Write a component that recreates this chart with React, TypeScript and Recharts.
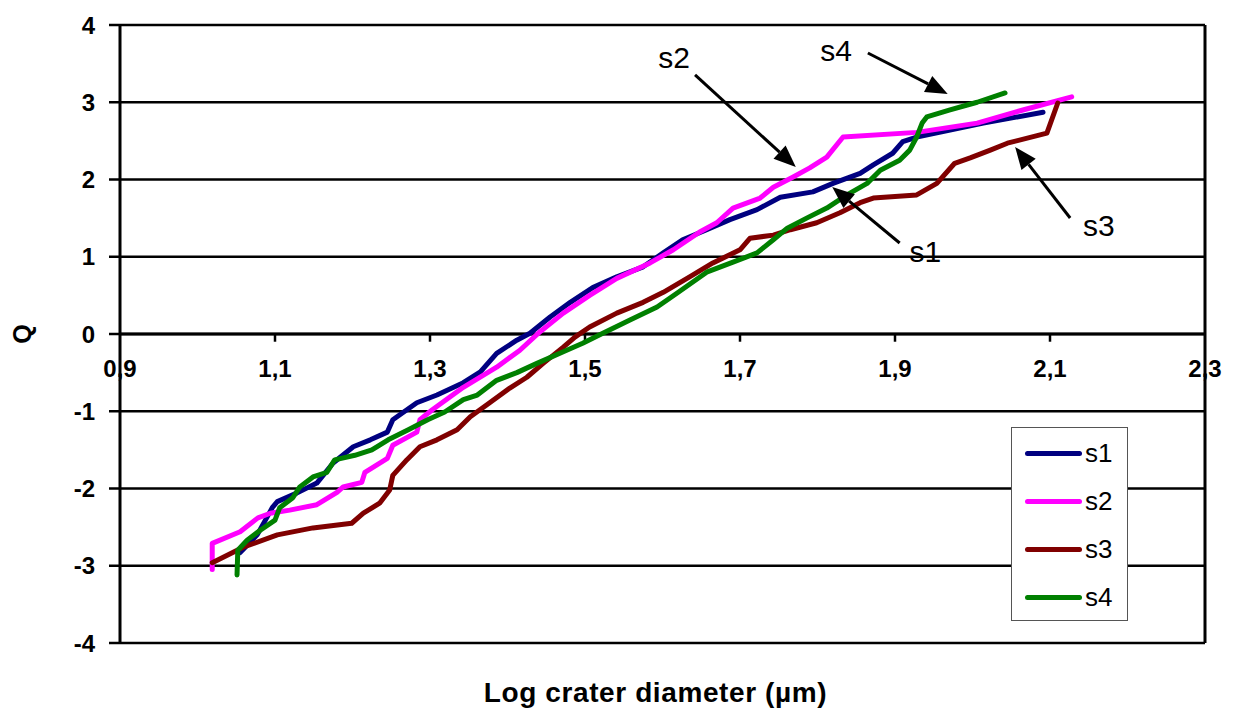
import {
  CartesianGrid,
  Legend,
  Line,
  LineChart,
  ReferenceDot,
  ReferenceLine,
  XAxis,
  YAxis,
} from 'recharts'

const FONT = '"Liberation Sans", Arial, sans-serif'

// Q values against log crater diameter
const s1: [number, number][] = [
  [1.055, -2.83], [1.077, -2.6], [1.097, -2.24], [1.103, -2.17], [1.128, -2.06],
  [1.154, -1.93], [1.175, -1.67], [1.201, -1.46], [1.223, -1.37], [1.245, -1.27],
  [1.252, -1.11], [1.283, -0.89], [1.309, -0.79], [1.343, -0.63], [1.365, -0.49],
  [1.386, -0.25], [1.412, -0.08], [1.429, 0.01], [1.455, 0.22], [1.481, 0.41],
  [1.51, 0.6], [1.541, 0.74], [1.575, 0.87], [1.601, 1.05], [1.626, 1.22],
  [1.657, 1.35], [1.687, 1.48], [1.722, 1.61], [1.752, 1.77], [1.794, 1.84],
  [1.82, 1.95], [1.855, 2.08], [1.872, 2.19], [1.897, 2.34], [1.91, 2.49],
  [1.928, 2.55], [1.971, 2.64], [2.014, 2.73], [2.091, 2.87],
]

const s2: [number, number][] = [
  [1.019, -3.05], [1.019, -2.71], [1.055, -2.56], [1.078, -2.38], [1.094, -2.32],
  [1.119, -2.28], [1.154, -2.21], [1.18, -2.05], [1.188, -1.98], [1.212, -1.92],
  [1.216, -1.79], [1.245, -1.61], [1.252, -1.44], [1.283, -1.27], [1.287, -1.11],
  [1.303, -0.98], [1.343, -0.69], [1.386, -0.43], [1.416, -0.21], [1.442, 0.03],
  [1.472, 0.27], [1.506, 0.5], [1.541, 0.72], [1.584, 0.92], [1.614, 1.09],
  [1.648, 1.32], [1.67, 1.44], [1.691, 1.63], [1.726, 1.76], [1.743, 1.9],
  [1.768, 2.03], [1.79, 2.15], [1.812, 2.29], [1.833, 2.55], [1.928, 2.61],
  [2.006, 2.73], [2.065, 2.9], [2.128, 3.07],
]

const s3: [number, number][] = [
  [1.019, -2.96], [1.059, -2.76], [1.103, -2.6], [1.149, -2.51], [1.199, -2.45],
  [1.214, -2.32], [1.235, -2.19], [1.248, -2.02], [1.252, -1.83], [1.27, -1.63],
  [1.287, -1.46], [1.309, -1.37], [1.335, -1.24], [1.352, -1.07], [1.377, -0.89],
  [1.403, -0.7], [1.425, -0.56], [1.446, -0.38], [1.472, -0.17], [1.487, -0.04],
  [1.506, 0.09], [1.541, 0.27], [1.575, 0.41], [1.601, 0.54], [1.635, 0.74],
  [1.665, 0.92], [1.7, 1.09], [1.713, 1.24], [1.743, 1.28], [1.765, 1.35],
  [1.799, 1.44], [1.829, 1.57], [1.855, 1.7], [1.872, 1.76], [1.928, 1.8],
  [1.954, 1.95], [1.977, 2.21], [1.997, 2.28], [2.023, 2.38], [2.045, 2.47],
  [2.096, 2.6], [2.11, 2.99],
]

const s4: [number, number][] = [
  [1.051, -3.12], [1.052, -2.8], [1.064, -2.67], [1.081, -2.54], [1.1, -2.41],
  [1.106, -2.25], [1.123, -2.12], [1.132, -1.98], [1.149, -1.85], [1.167, -1.79],
  [1.177, -1.63], [1.203, -1.57], [1.225, -1.5], [1.246, -1.37], [1.272, -1.24],
  [1.297, -1.11], [1.319, -1.01], [1.343, -0.85], [1.361, -0.79], [1.386, -0.6],
  [1.412, -0.5], [1.438, -0.38], [1.472, -0.23], [1.497, -0.12], [1.523, 0.01],
  [1.558, 0.18], [1.593, 0.35], [1.619, 0.53], [1.657, 0.8], [1.691, 0.93],
  [1.722, 1.05], [1.743, 1.22], [1.761, 1.37], [1.786, 1.5], [1.812, 1.63],
  [1.838, 1.8], [1.864, 1.95], [1.881, 2.12], [1.906, 2.25], [1.919, 2.38],
  [1.928, 2.55], [1.935, 2.73], [1.941, 2.81], [1.971, 2.9], [2.006, 3.0],
  [2.042, 3.12],
]

const xTicks = [0.9, 1.1, 1.3, 1.5, 1.7, 1.9, 2.1, 2.3]
const xTickLabels = ['0,9', '1,1', '1,3', '1,5', '1,7', '1,9', '2,1', '2,3']
const yTicks = [-4, -3, -2, -1, 0, 1, 2, 3, 4]

// callout labels and their arrows (from -> to), in data units
const callouts = [
  { name: 's2', text: [1.615, 3.58], from: [1.642, 3.353], to: [1.772, 2.162] },
  { name: 's4', text: [1.824, 3.676], from: [1.865, 3.638], to: [1.968, 3.107] },
  { name: 's1', text: [1.939, 1.068], from: [1.906, 1.178], to: [1.819, 1.903] },
  { name: 's3', text: [2.163, 1.411], from: [2.126, 1.502], to: [2.055, 2.421] },
]

const series = [
  { name: 's1', points: s1, color: '#000080' },
  { name: 's2', points: s2, color: '#ff00ff' },
  { name: 's3', points: s3, color: '#800000' },
  { name: 's4', points: s4, color: '#008000' },
]

const toRows = (pts: [number, number][]) => pts.map(([x, y]) => ({ x, y }))

function Arrow(props: any) {
  const { x1, y1, x2, y2 } = props
  const ang = Math.atan2(y2 - y1, x2 - x1)
  const len = 22
  const half = 9
  const bx = x2 - len * Math.cos(ang)
  const by = y2 - len * Math.sin(ang)
  const px = -Math.sin(ang) * half
  const py = Math.cos(ang) * half
  return (
    <g>
      <line x1={x1} y1={y1} x2={bx} y2={by} stroke="#000" strokeWidth={3} />
      <polygon
        points={`${x2},${y2} ${bx + px},${by + py} ${bx - px},${by - py}`}
        fill="#000"
      />
    </g>
  )
}

function LegendBox({ payload }: any) {
  return (
    <div
      style={{
        width: 115,
        height: 191,
        paddingTop: 1,
        border: '1px solid #555',
        background: '#fff',
        fontFamily: FONT,
      }}
    >
      {(payload || []).map((entry: any) => (
        <div key={entry.value} style={{ display: 'flex', alignItems: 'center', height: 48 }}>
          <div
            style={{
              marginLeft: 13,
              width: 57,
              height: 5,
              borderRadius: 3,
              background: entry.color,
            }}
          />
          <span style={{ marginLeft: 3, fontSize: 26, lineHeight: 1, color: '#000' }}>
            {entry.value}
          </span>
        </div>
      ))}
    </div>
  )
}

export default function App() {
  return (
    <div style={{ position: 'absolute', left: 0, top: 0, background: '#fff' }}>
      <LineChart
        width={1236}
        height={708}
        margin={{ top: 25, right: 31, bottom: 0, left: 0 }}
        style={{ fontFamily: FONT }}
      >
        <CartesianGrid vertical={false} stroke="#000" strokeWidth={2.5} />
        <XAxis
          type="number"
          dataKey="x"
          domain={[0.9, 2.3]}
          ticks={xTicks}
          tick={false}
          tickLine={false}
          axisLine={false}
          height={65}
          label={{
            value: 'Log crater diameter (µm)',
            position: 'insideBottom',
            offset: 6,
            dx: -7,
            fill: '#000',
            fontSize: 28,
            fontWeight: 'bold',
            letterSpacing: 0.6,
            fontFamily: FONT,
          }}
        />
        <YAxis
          type="number"
          dataKey="y"
          domain={[-4, 4]}
          ticks={yTicks}
          interval={0}
          width={120}
          tick={{ fill: '#000', fontSize: 24, fontWeight: 'bold', fontFamily: FONT }}
          tickLine={{ stroke: '#000', strokeWidth: 2.5 }}
          tickSize={11}
          tickMargin={14}
          axisLine={{ stroke: '#000', strokeWidth: 3 }}
          label={{
            content: (p: any) => {
              const vb = p.viewBox
              const cx = vb.x + 22
              const cy = vb.y + vb.height / 2
              return (
                <text
                  x={cx}
                  y={cy}
                  transform={`rotate(-90, ${cx}, ${cy})`}
                  textAnchor="middle"
                  dominantBaseline="central"
                  fontSize={25}
                  fontWeight="bold"
                  fontFamily={FONT}
                  fill="#000"
                >
                  Q
                </text>
              )
            },
          }}
        />
        <ReferenceLine y={0} stroke="#000" strokeWidth={3} />
        <ReferenceLine x={2.3} stroke="#000" strokeWidth={3} />
        {xTicks.slice(1, -1).map((v) => (
          <ReferenceLine
            key={`t${v}`}
            segment={[{ x: v, y: 0 }, { x: v, y: -0.1 }]}
            stroke="#000"
            strokeWidth={2.5}
          />
        ))}
        {xTicks.map((v, i) => (
          <ReferenceDot
            key={`l${v}`}
            x={v}
            y={0}
            r={0}
            fill="none"
            stroke="none"
            label={{
              value: xTickLabels[i],
              position: 'bottom',
              offset: 26,
              fill: '#000',
              fontSize: 24,
              fontWeight: 'bold',
              fontFamily: FONT,
            }}
          />
        ))}
        {series.map((s) => (
          <Line
            key={s.name}
            name={s.name}
            data={toRows(s.points)}
            dataKey="y"
            type="linear"
            stroke={s.color}
            strokeWidth={5}
            strokeLinejoin="round"
            strokeLinecap="round"
            dot={false}
            activeDot={false}
            isAnimationActive={false}
          />
        ))}
        {callouts.map((c) => (
          <ReferenceLine
            key={`a${c.name}`}
            segment={[
              { x: c.from[0], y: c.from[1] },
              { x: c.to[0], y: c.to[1] },
            ]}
            shape={(p: any) => <Arrow {...p} />}
          />
        ))}
        {callouts.map((c) => (
          <ReferenceDot
            key={`c${c.name}`}
            x={c.text[0]}
            y={c.text[1]}
            r={0}
            fill="none"
            stroke="none"
            label={{
              value: c.name,
              position: 'center',
              fill: '#000',
              fontSize: 30,
              fontFamily: FONT,
            }}
          />
        ))}
        <Legend
          layout="horizontal"
          verticalAlign="middle"
          align="center"
          wrapperStyle={{ left: 1011, top: 427, width: 117 }}
          content={<LegendBox />}
        />
      </LineChart>
    </div>
  )
}
